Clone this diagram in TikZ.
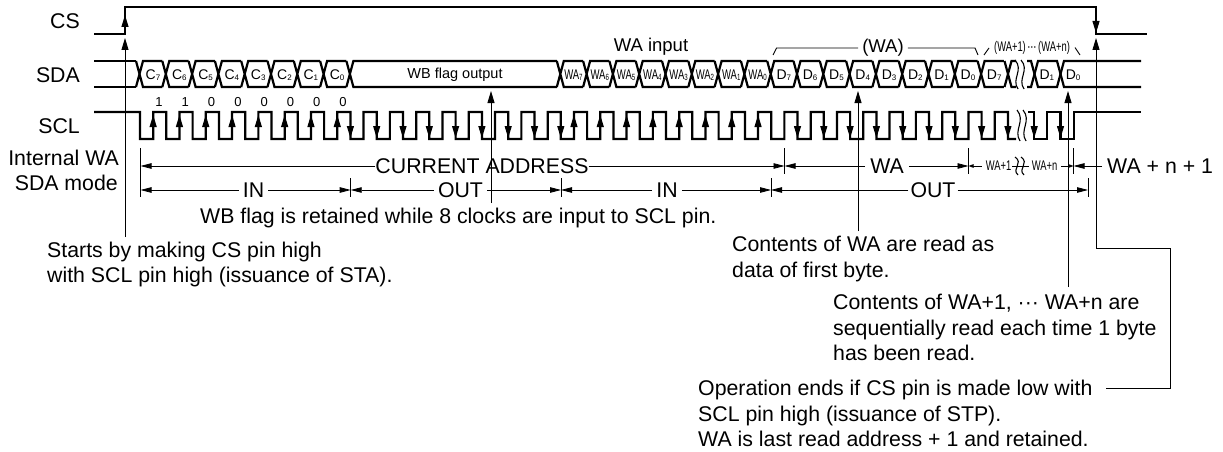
\documentclass[tikz,border=0pt]{standalone}
\usepackage{fontspec}
\setmainfont{Liberation Sans}
\usetikzlibrary{arrows.meta}
\newcommand{\fsz}[1]{\fontsize{#1}{#1}\selectfont}
\newcommand{\slab}[2]{{\fsz{14}#1\raisebox{-1pt}{\fsz{8}#2}}}
\newcommand{\wlab}[1]{\scalebox{.68}[1]{\fsz{14}WA\raisebox{-1pt}{\fsz{9}#1}}}
\newcommand{\narrow}[1]{\scalebox{.67}[1]{\fsz{14}#1}}
\newcommand{\squig}[3]{% x, top, bottom
  \draw[squig line] (#1,#2) .. controls ({#1+9},{#2+0.35*(#3-#2)}) and ({#1-4},{#2+0.65*(#3-#2)}) .. ({#1+3},#3);
  \draw[squig line] ({#1+6},#2) .. controls ({#1+15},{#2+0.35*(#3-#2)}) and ({#1+2},{#2+0.65*(#3-#2)}) .. ({#1+9},#3);}
\tikzset{
  sig/.style={line width=2.2pt,line join=miter},
  thin line/.style={line width=0.9pt},
  squig line/.style={line width=1.1pt},
  leader/.style={line width=0.9pt,-{Triangle[length=12pt,width=7pt]}},
  clk/.style={line width=1.1pt,-{Triangle[length=12pt,width=7pt]}},
  dimline/.style={line width=0.8pt,-{Triangle[length=11pt,width=5.5pt]}},
  smalldim/.style={line width=0.8pt,-{Triangle[length=5pt,width=3.5pt]}},
  tick/.style={line width=0.9pt},
  lbl/.style={inner sep=0pt,font=\fsz{21.3}},
  para/.style={inner sep=0pt,align=left,anchor=west,font=\fontsize{21.3}{25.4}\selectfont},
  bit/.style={inner sep=0pt,font=\fsz{13}},
}
\begin{document}
\begin{tikzpicture}[x=1pt,y=-1pt]
\useasboundingbox (0,0) rectangle (1223,452);
% signal names
\node[lbl,anchor=east] (csn) at (80,21) {CS};
\node[lbl,anchor=east] (sdan) at (80,75) {SDA};
\node[lbl,anchor=east] (scln) at (80,126) {SCL};
\node[lbl,anchor=east] (iwa) at (119,158) {Internal WA};
\node[lbl,anchor=east] (sdm) at (118,183) {SDA mode};
% CS
\draw[sig] (94,34) -- (125,34) -- (125,7) -- (1096,7) -- (1096,34) -- (1147,34);
% SDA
\def\p{26.3}
\draw[sig] (94,61) -- (136,61) (94,87) -- (136,87);
\foreach \k/\w in {0/1,1/1,2/1,3/1,4/1,5/1,6/1,7/1,8/8,16/1,17/1,18/1,19/1,20/1,21/1,22/1,23/1,24/1,25/1,26/1,27/1,28/1,29/1,30/1,31/1,32/1}{
  \pgfmathsetmacro{\cx}{139.5+\p*\k}
  \pgfmathsetmacro{\nx}{\cx+\p*\w}
  \draw[sig] ({\cx-3.5},61) -- ({\cx+3.5},87) -- ({\nx-3.5},87) ({\cx-3.5},87) -- ({\cx+3.5},61) -- ({\nx-3.5},61);
}
% last part of SDA
\draw[sig] (1004.5,61) -- (1011.5,87) -- (1016,87) (1004.5,87) -- (1011.5,61) -- (1016,61);
\draw[sig] (1027,61) -- (1031,61) -- (1038,87) -- (1057,87) -- (1064,61) -- (1141,61);
\draw[sig] (1027,87) -- (1031,87) -- (1038,61) -- (1057,61) -- (1064,87) -- (1141,87);
\squig{1015}{60}{89}
% SCL
\draw[sig] (94,112) -- (140,112) foreach \k in {0,...,32}{ -- ({140+\p*\k},139) -- ({140+\p*\k+\p/2},139) -- ({140+\p*\k+\p/2},112) -- ({140+\p*(\k+1)},112)} -- (1008,139) -- (1016,139);
\draw[sig] (1028,112) -- (1034.2,112) -- (1034.2,139) -- (1047.3,139) -- (1047.3,112) -- (1060.5,112) -- (1060.5,139) -- (1074,139) -- (1074,112) -- (1141,112);
\squig{1017}{110}{141}
% clock arrows
\foreach \k in {0,...,7,16,17,...,23}{
  \pgfmathsetmacro{\cx}{140+\p*\k+\p/2}
  \draw[clk] (\cx,139) -- (\cx,115);
}
\foreach \k in {8,...,16,25,26,...,35}{
  \pgfmathsetmacro{\cx}{140+\p*\k}
  \draw[clk] (\cx,112) -- (\cx,138);
}
% data labels
\foreach \k/\t in {0/7,1/6,2/5,3/4,4/3,5/2,6/1,7/0}{
  \node[inner sep=0pt] (c\t) at ({153+\p*\k},75) {\slab{C}{\t}};
}
\foreach \k/\b in {0/1,1/1,2/0,3/0,4/0,5/0,6/0,7/0}{
  \node[bit] (b\k) at ({159+\p*\k},102) {\b};
}
\node[inner sep=0pt,font=\fsz{14.5}] (wbf) at (455,75) {WB flag output};
\foreach \k/\t in {16/7,17/6,18/5,19/4,20/3,21/2,22/1,23/0}{
  \node[inner sep=0pt] (wa\t) at ({139.5+\p*\k+13.15},75) {\wlab{\t}};
}
\foreach \k/\t/\m in {24/7/a,25/6/a,26/5/a,27/4/a,28/3/a,29/2/a,30/1/a,31/0/a,32/7/b,34/1/b,35/0/b}{
  \node[inner sep=0pt] (d\m\k) at ({139.5+\p*\k+13.15},75) {\slab{D}{\t}};
}
% bracket labels over SDA
\node[inner sep=0pt,font=\fsz{18.5}] (wain) at (651,47) {WA input};
\node[inner sep=0pt,font=\fsz{18.5}] (wabr) at (883,48) {(WA)};
\node[inner sep=0pt] (wan) at (1032,48) {\narrow{(WA+1)}\,\raisebox{1pt}{\fsz{9}\textbf{···}}\,\narrow{(WA+n)}};
\coordinate (br1) at (773,55);
\coordinate (br2) at (978,55);
\coordinate (br3) at (984,55);
\coordinate (br4) at (1080,55);
\draw[thin line] (br1) -- (776.5,48) -- ([xshift=-4pt]wabr.west);
\draw[thin line] ([xshift=4pt]wabr.east) -- (975,48) -- (br2);
\draw[thin line] (br3) -- (989,48);
\draw[thin line] (1075,47.5) -- (br4);
% leaders with arrows
\node[para] (starts) at (47,264.5) {Starts by making CS pin high\\with SCL pin high (issuance of STA).};
\node[lbl,anchor=west] (wbret) at (200,218) {WB flag is retained while 8 clocks are input to SCL pin.};
\node[para] (cwa) at (732,259) {Contents of WA are read as\\data of first byte.};
\node[para] (cwan) at (833,327.5) {Contents of WA+1, ··· WA+n are\\sequentially read each time 1 byte\\has been read.};
\node[para] (opend) at (698,413.5) {Operation ends if CS pin is made low with\\SCL pin high (issuance of STP).\\WA is last read address + 1 and retained.};
\coordinate (stat) at (125,38);
\coordinate (flag) at (491,91);
\coordinate (dfirst) at (858,91);
\coordinate (dlast) at (1068,91);
\coordinate (stop) at (1096,38);
\coordinate (csup) at (125,15);
\coordinate (csdn) at (1096,33);
\coordinate (opout) at (1106,388);
\draw[clk] (125,30) -- (csup);
\draw[clk] (1096,12) -- (csdn);
\draw[leader] (125,237) -- (stat);
\draw[leader] (491,203) -- (flag);
\draw[leader] (858,231) -- (dfirst);
\draw[leader] (1068,287) -- (dlast);
\draw[leader] (opout) -- (1170,388) -- (1170,248) -- (1096,248) -- (stop);
% dimension row 1
\coordinate (t0) at (140.5,148); \coordinate (t0b) at (140.5,197);
\coordinate (t1) at (784.5,148); \coordinate (t1b) at (784.5,174);
\coordinate (t2) at (968.5,148); \coordinate (t2b) at (968.5,174);
\coordinate (t3) at (1073.5,148); \coordinate (t3b) at (1073.5,174);
\draw[tick] (t0) -- (t0b) (t1) -- (t1b) (t2) -- (t2b) (t3) -- (t3b);
\node[lbl] (cur) at (482,166) {CURRENT ADDRESS};
\node[lbl] (wad) at (887,166) {WA};
\node[inner sep=0pt] (wa1) at (998.5,166) {\narrow{WA+1}};
\node[inner sep=0pt] (wn) at (1044.5,166) {\narrow{WA+n}};
\node[lbl,anchor=west] (wn1) at (1107,166) {WA + n + 1};
\draw[dimline] (cur.west) -- (t0 |- cur);
\draw[dimline] (cur.east) -- (t1 |- cur);
\draw[dimline] ([xshift=-5pt]wad.west) -- (t1 |- wad);
\draw[dimline] ([xshift=5pt]wad.east) -- (t2 |- wad);
\draw[smalldim] ([xshift=-4pt]wa1.west) -- (t2 |- wa1);
\draw[smalldim] ([xshift=4pt]wn.east) -- (t3 |- wn);
\draw[thin line] ([xshift=1pt]wa1.east) -- ([xshift=-3pt]wn.west);
\squig{1015}{157}{175}
\draw[dimline] ([xshift=-5pt]wn1.west) -- (t3 |- wn1);
% dimension row 2
\coordinate (u1) at (350.7,178); \coordinate (u1b) at (350.7,197);
\coordinate (u2) at (561,178); \coordinate (u2b) at (561,197);
\coordinate (u3) at (771,178); \coordinate (u3b) at (771,197);
\coordinate (u4) at (1088,178); \coordinate (u4b) at (1088,197);
\draw[tick] (u1) -- (u1b) (u2) -- (u2b) (u3) -- (u3b) (u4) -- (u4b);
\node[lbl] (in1) at (253.5,190) {IN};
\node[lbl] (out1) at (460.5,190) {OUT};
\node[lbl] (in2) at (667,190) {IN};
\node[lbl] (out2) at (933,190) {OUT};
\draw[dimline] ([xshift=-4pt]in1.west) -- (t0 |- in1);
\draw[dimline] ([xshift=4pt]in1.east) -- (u1 |- in1);
\draw[dimline] ([xshift=-4pt]out1.west) -- (u1 |- out1);
\draw[dimline] ([xshift=4pt]out1.east) -- (u2 |- out1);
\draw[dimline] ([xshift=-4pt]in2.west) -- (u2 |- in2);
\draw[dimline] ([xshift=4pt]in2.east) -- (u3 |- in2);
\draw[dimline] ([xshift=-2pt]out2.west) -- (u3 |- out2);
\draw[dimline] ([xshift=2pt]out2.east) -- (u4 |- out2);
\end{tikzpicture}
\end{document}
